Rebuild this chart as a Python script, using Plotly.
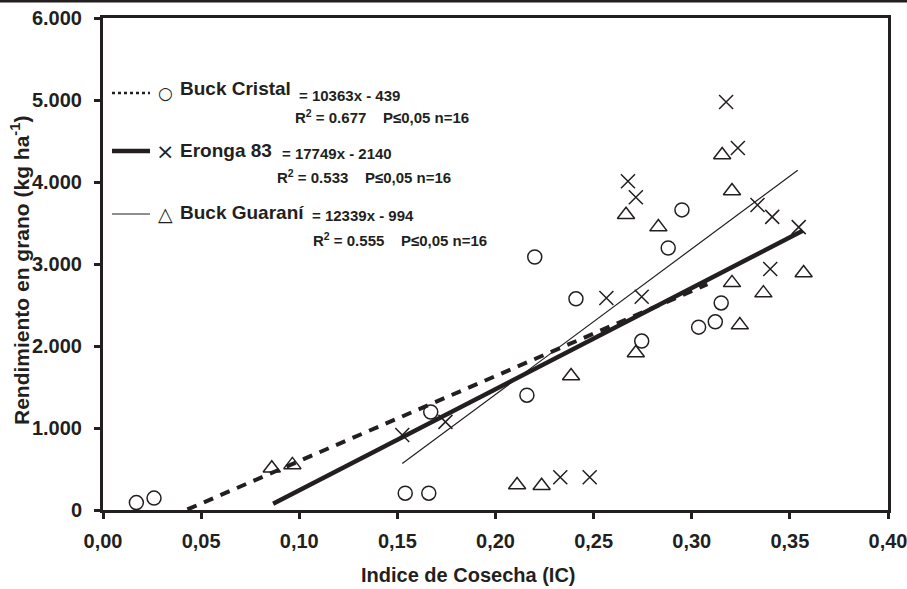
import plotly.graph_objects as go

INK = "#231f20"
FONT = "Liberation Sans, Arial, sans-serif"

# ---- data ----
cristal_x = [0.017, 0.026, 0.154, 0.166, 0.167, 0.216, 0.220, 0.241, 0.2745, 0.288, 0.295, 0.3035, 0.312, 0.315]
cristal_y = [90, 145, 205, 205, 1195, 1400, 3085, 2575, 2060, 3195, 3660, 2230, 2295, 2525]

eronga_x = [0.3175, 0.3235, 0.2675, 0.2715, 0.3335, 0.341, 0.3545, 0.340, 0.2565, 0.2745, 0.1525, 0.1745, 0.233, 0.248]
eronga_y = [4975, 4415, 4010, 3815, 3720, 3575, 3450, 2940, 2585, 2600, 915, 1075, 400, 400]

guarani_x = [0.3155, 0.3205, 0.2665, 0.283, 0.3205, 0.3365, 0.357, 0.3245, 0.2715, 0.2385, 0.086, 0.0965, 0.211, 0.2235]
guarani_y = [4330, 3890, 3600, 3450, 2770, 2645, 2890, 2255, 1915, 1635, 510, 550, 305, 295]

# fitted lines as drawn: (slope, intercept, x start, x end)
fit_cristal = (10363, -439, 0.043, 0.308)
fit_thick = (12339, -994, 0.0867, 0.3565)
fit_thin = (17749, -2140, 0.1525, 0.354)

x_ticks = [0, 0.05, 0.10, 0.15, 0.20, 0.25, 0.30, 0.35, 0.40]
y_ticks = [0, 1000, 2000, 3000, 4000, 5000, 6000]

legend_rows = [
    ("Buck Cristal", "= 10363x - 439", "R<sup>2</sup> = 0.677\u00a0\u00a0\u00a0\u00a0P\u22640,05 n=16", "\u25cb"),
    ("Eronga 83", "= 17749x - 2140", "R<sup>2</sup> = 0.533\u00a0\u00a0\u00a0\u00a0P\u22640,05 n=16", "\u00d7"),
    ("Buck Guaraní", "= 12339x - 994", "R<sup>2</sup> = 0.555\u00a0\u00a0\u00a0\u00a0P\u22640,05 n=16", "\u25b3"),
]

W, H = 907, 589
L, R, T, B = 103, 19, 18, 79
PW, PH = W - L - R, H - T - B


def px(xp):
    return (xp - L) / PW


def py(yp):
    return (H - B - yp) / PH


def line_pts(fit):
    a, b, x0, x1 = fit
    return [x0, x1], [a * x0 + b, a * x1 + b]


fig = go.Figure()

xs, ys = line_pts(fit_cristal)
fig.add_trace(go.Scatter(x=xs, y=ys, mode="lines",
                         line=dict(color=INK, width=4, dash="10px,8px")))
xs, ys = line_pts(fit_thick)
fig.add_trace(go.Scatter(x=xs, y=ys, mode="lines", line=dict(color=INK, width=4.5)))
xs, ys = line_pts(fit_thin)
fig.add_trace(go.Scatter(x=xs, y=ys, mode="lines", line=dict(color=INK, width=1.2)))

fig.add_trace(go.Scatter(x=cristal_x, y=cristal_y, mode="markers",
                         marker=dict(symbol="circle-open", size=14, color=INK,
                                     line=dict(width=1.5, color=INK))))
fig.add_trace(go.Scatter(x=eronga_x, y=eronga_y, mode="markers",
                         marker=dict(symbol="x-thin", size=14, color=INK,
                                     line=dict(width=1.5, color=INK))))
fig.add_trace(go.Scatter(x=guarani_x, y=guarani_y, mode="markers",
                         marker=dict(symbol="triangle-up-open", size=15, color=INK,
                                     line=dict(width=1.5, color=INK))))

shapes = []
annotations = []

# top rule of the page
shapes.append(dict(type="line", xref="paper", yref="paper",
                   x0=px(0), x1=px(W), y0=py(1), y1=py(1),
                   line=dict(color=INK, width=3)))

# legend block
row_y = [93, 151, 214]
name_y = [88, 150, 212]
eq_left = [297, 280, 310]
eq_y = [95, 153, 215]
r2_left = [293, 275, 311]
r2_y = [117, 177, 239]
sample_styles = [dict(width=2.5, dash="dot"), dict(width=4.5), dict(width=1.2)]
glyph_sizes = [17, 22, 19]

for i, (name, eq, r2, glyph) in enumerate(legend_rows):
    st = dict(color=INK)
    st.update(sample_styles[i])
    shapes.append(dict(type="line", xref="paper", yref="paper",
                       x0=px(112), x1=px(150), y0=py(row_y[i]), y1=py(row_y[i]),
                       line=st))
    annotations.append(dict(xref="paper", yref="paper", x=px(165), y=py(row_y[i]),
                            text=glyph, showarrow=False, xanchor="center", yanchor="middle",
                            font=dict(family="DejaVu Sans", size=glyph_sizes[i], color=INK)))
    annotations.append(dict(xref="paper", yref="paper", x=px(178), y=py(name_y[i]),
                            text="<b>%s</b>" % name, showarrow=False, xanchor="left",
                            yanchor="middle", font=dict(family=FONT, size=19, color=INK)))
    annotations.append(dict(xref="paper", yref="paper", x=px(eq_left[i]), y=py(eq_y[i]),
                            text="<b>%s</b>" % eq, showarrow=False, xanchor="left",
                            yanchor="middle", font=dict(family=FONT, size=15, color=INK)))
    annotations.append(dict(xref="paper", yref="paper", x=px(r2_left[i]), y=py(r2_y[i]),
                            text="<b>%s</b>" % r2, showarrow=False, xanchor="left",
                            yanchor="middle", font=dict(family=FONT, size=15, color=INK)))

# axis titles
annotations.append(dict(xref="paper", yref="paper", x=px(468), y=py(575),
                        text="<b>Indice de Cosecha (IC)</b>", showarrow=False,
                        xanchor="center", yanchor="middle",
                        font=dict(family=FONT, size=20, color=INK)))
annotations.append(dict(xref="paper", yref="paper", x=px(20), y=py(271),
                        text="<b>Rendimiento en grano (kg ha<sup>-1</sup>)</b>", showarrow=False,
                        xanchor="center", yanchor="middle", textangle=-90,
                        font=dict(family=FONT, size=21, color=INK)))

fig.update_layout(
    width=W, height=H,
    margin=dict(l=L, r=R, t=T, b=B, autoexpand=False),
    paper_bgcolor="white", plot_bgcolor="white",
    showlegend=False,
    separators=",.",
    shapes=shapes, annotations=annotations,
    font=dict(family=FONT, color=INK),
)
fig.update_xaxes(range=[0, 0.40], tickvals=x_ticks, tickformat=".2f",
                 showgrid=False, zeroline=False, automargin=False,
                 showline=True, linewidth=3, linecolor=INK, mirror=True,
                 ticks="outside", ticklen=6, tickwidth=2.5, tickcolor=INK,
                 ticklabelstandoff=5, ticklabeloverflow="allow",
                 tickfont=dict(family=FONT, size=20, color=INK, weight="bold"))
fig.update_yaxes(range=[0, 6000], tickvals=y_ticks, tickformat=",d",
                 showgrid=False, zeroline=False, automargin=False,
                 showline=True, linewidth=3, linecolor=INK, mirror=True,
                 ticks="outside", ticklen=6, tickwidth=2.5, tickcolor=INK,
                 ticklabelstandoff=8, ticklabeloverflow="allow",
                 tickfont=dict(family=FONT, size=20, color=INK, weight="bold"))

fig.write_html("out.html")
